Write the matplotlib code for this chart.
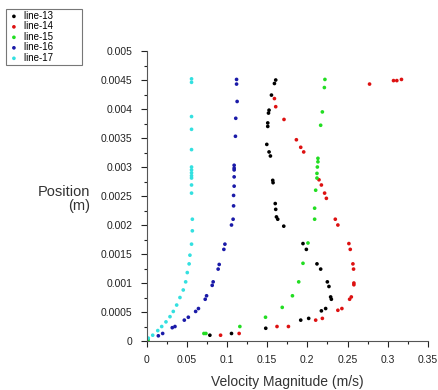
import matplotlib.pyplot as plt
from matplotlib.ticker import MultipleLocator, FuncFormatter

plt.rcParams['font.family'] = ['Liberation Sans Narrow', 'Liberation Sans', 'DejaVu Sans']

# line-13 (black)
x13 = [0.1607, 0.1591, 0.1554, 0.1524, 0.1517, 0.1508, 0.1508, 0.1496, 0.1524, 0.1541,
       0.1570, 0.1574, 0.1601, 0.1607, 0.1616, 0.1632, 0.1707, 0.1946, 0.1988, 0.2120,
       0.2166, 0.2249, 0.2269, 0.2290, 0.2299, 0.2228, 0.2175, 0.2017, 0.1918, 0.1483,
       0.1057, 0.0788]
y13 = [0.00450, 0.00444, 0.00424, 0.00398, 0.00393, 0.00376, 0.00370, 0.00339, 0.00326, 0.00319,
       0.00277, 0.00273, 0.00237, 0.00227, 0.00214, 0.00210, 0.00198, 0.00168, 0.00158, 0.00133,
       0.00124, 0.00102, 0.00094, 0.00076, 0.00072, 0.00056, 0.00052, 0.00039, 0.00036, 0.00022,
       0.00013, 0.00010]

# line-14 (red)
x14 = [0.2774, 0.3072, 0.3113, 0.3171, 0.1591, 0.1607, 0.1710, 0.1864, 0.1918, 0.1955,
       0.2145, 0.2175, 0.2215, 0.2237, 0.2348, 0.2380, 0.2517, 0.2534, 0.2567, 0.2575,
       0.2579, 0.2579, 0.2547, 0.2526, 0.2430, 0.2380, 0.2187, 0.2104, 0.1765, 0.1623,
       0.1152, 0.0921]
y14 = [0.00443, 0.00449, 0.00449, 0.00451, 0.00418, 0.00404, 0.00382, 0.00347, 0.00334, 0.00326,
       0.00278, 0.00269, 0.00255, 0.00246, 0.00210, 0.00200, 0.00168, 0.00158, 0.00133, 0.00124,
       0.00100, 0.00097, 0.00076, 0.00072, 0.00056, 0.00053, 0.00039, 0.00036, 0.00025, 0.00025,
       0.00013, 0.00010]

# line-15 (green)
x15 = [0.2219, 0.2212, 0.2187, 0.2166, 0.2132, 0.2132, 0.2125, 0.2120, 0.2120, 0.2104,
       0.2091, 0.2091, 0.2008, 0.1946, 0.1893, 0.1815, 0.1688, 0.1480, 0.1161, 0.0714,
       0.0739, 0.0020]
y15 = [0.00451, 0.00437, 0.00395, 0.00372, 0.00315, 0.00309, 0.00300, 0.00289, 0.00281, 0.00260,
       0.00229, 0.00210, 0.00169, 0.00134, 0.00102, 0.00078, 0.00058, 0.00041, 0.00025, 0.00013,
       0.00013, 0.00002]

# line-16 (blue)
x16 = [0.1120, 0.1120, 0.1127, 0.1110, 0.1106, 0.1090, 0.1090, 0.1090, 0.1090, 0.1090,
       0.1083, 0.1083, 0.1077, 0.1057, 0.0975, 0.0962, 0.0904, 0.0891, 0.0829, 0.0817,
       0.0747, 0.0730, 0.0646, 0.0611, 0.0520, 0.0470, 0.0354, 0.0320, 0.0201, 0.0147]
y16 = [0.00451, 0.00443, 0.00413, 0.00384, 0.00353, 0.00303, 0.00298, 0.00295, 0.00283, 0.00267,
       0.00251, 0.00233, 0.00210, 0.00200, 0.00167, 0.00158, 0.00132, 0.00124, 0.00102, 0.00096,
       0.00078, 0.00072, 0.00056, 0.00051, 0.00041, 0.00036, 0.00025, 0.00023, 0.00013, 0.00009]

# line-17 (cyan)
x17 = [0.0560, 0.0560, 0.0560, 0.0560, 0.0560, 0.0560, 0.0560, 0.0560, 0.0560, 0.0560,
       0.0560, 0.0560, 0.0570, 0.0570, 0.0560, 0.0540, 0.0530, 0.0507, 0.0487, 0.0457,
       0.0416, 0.0375, 0.0333, 0.0292, 0.0242, 0.0189, 0.0140, 0.0077, 0.0022]
y17 = [0.00452, 0.00446, 0.00387, 0.00365, 0.00330, 0.00300, 0.00295, 0.00290, 0.00285, 0.00281,
       0.00269, 0.00255, 0.00210, 0.00190, 0.00167, 0.00148, 0.00133, 0.00118, 0.00102, 0.00088,
       0.00075, 0.00062, 0.00051, 0.00042, 0.00033, 0.00025, 0.00018, 0.00010, 0.00005]

series = [
    (x13, y13, "#000000", "line-13"),
    (x14, y14, "#dd1111", "line-14"),
    (x15, y15, "#22dd22", "line-15"),
    (x16, y16, "#1a1aa8", "line-16"),
    (x17, y17, "#33e0e0", "line-17"),
]

fig = plt.figure(figsize=(4.38, 3.90), dpi=100)
ax = fig.add_axes([0.3345, 0.1256, 0.6425, 0.7436])

handles = []
for xs, ys, c, lab in series:
    h = ax.scatter(xs, ys, s=7, color=c, edgecolors='none', label=lab + "          ")
    handles.append(h)

ax.set_xlim(0, 0.35)
ax.set_ylim(0, 0.005)
ax.xaxis.set_major_locator(MultipleLocator(0.05))
ax.xaxis.set_minor_locator(MultipleLocator(0.025))
ax.yaxis.set_major_locator(MultipleLocator(0.0005))
ax.yaxis.set_minor_locator(MultipleLocator(0.00025))
fmt = FuncFormatter(lambda v, p: "%g" % round(v, 6))
ax.xaxis.set_major_formatter(fmt)
ax.yaxis.set_major_formatter(fmt)
ax.tick_params(which='major', length=4, width=0.8, labelsize=7.5, colors='#222222', pad=6)
ax.tick_params(which='minor', length=2.5, width=0.8, colors='#222222')

for side in ['top', 'right']:
    ax.spines[side].set_visible(False)
for side in ['left', 'bottom']:
    ax.spines[side].set_color('#555555')

ax.set_xlabel("Velocity Magnitude (m/s)", fontsize=10, labelpad=7,
              family=['Liberation Sans', 'DejaVu Sans'], color='#333333')
fig.text(0.206, 0.49, "Position\n(m)", ha='right', va='center', multialignment='right',
         fontsize=10.5, family=['Liberation Sans', 'DejaVu Sans'], color='#333333', linespacing=0.95)

leg = fig.legend(handles=handles, loc='upper left', bbox_to_anchor=(0.014, 0.977),
                 fontsize=7, frameon=True, fancybox=False, labelspacing=0.05,
                 handletextpad=0.4, handlelength=1.2, borderpad=0.2, markerscale=1.0,
                 borderaxespad=0)
leg.get_frame().set_edgecolor('#555555')
leg.get_frame().set_linewidth(0.8)

plt.savefig("out.png", dpi=100)
